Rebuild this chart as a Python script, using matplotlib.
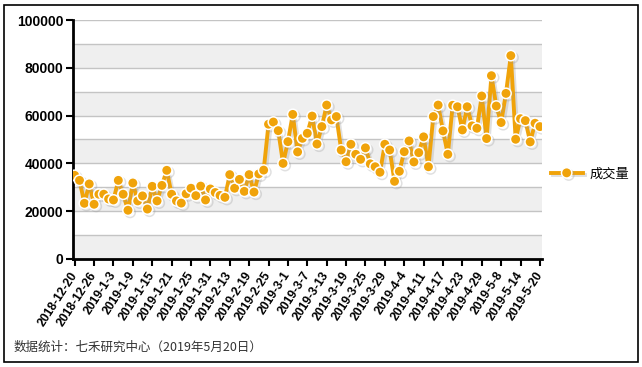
import matplotlib
matplotlib.use("Agg")
import matplotlib.pyplot as plt
import matplotlib.patches as mpatches
import matplotlib.patheffects as pe
from matplotlib.ticker import MultipleLocator

plt.rcParams["font.family"] = ["Liberation Sans", "Noto Sans CJK SC", "DejaVu Sans"]

# ---- data ----
tick_labels = [
    "2018-12-20", "2018-12-26", "2019-1-3", "2019-1-9", "2019-1-15",
    "2019-1-21", "2019-1-25", "2019-1-31", "2019-2-13", "2019-2-19",
    "2019-2-25", "2019-3-1", "2019-3-7", "2019-3-13", "2019-3-19",
    "2019-3-25", "2019-3-29", "2019-4-4", "2019-4-11", "2019-4-17",
    "2019-4-23", "2019-4-29", "2019-5-8", "2019-5-14", "2019-5-20",
]
volume = [
    35000, 32900, 23300, 31400, 22900, 27100, 27100, 25100, 24700, 32900,
    27100, 20400, 31800, 24300, 26400, 20900, 30400, 24300, 30800, 37100,
    27100, 24300, 23400, 27300, 29600, 26500, 30500, 24700, 29300, 27800,
    26600, 25800, 35300, 29600, 33300, 28300, 35300, 28000, 35600, 37200,
    56400, 57300, 53700, 40000, 49100, 60500, 44800, 50500, 52600, 59800,
    48100, 55400, 64400, 58200, 59600, 45600, 40700, 48000, 43800, 41700,
    46500, 39800, 38600, 36300, 48000, 45600, 32500, 36700, 44900, 49400,
    40600, 44500, 51100, 38600, 59600, 64400, 53600, 43800, 64300, 63700,
    54000, 63700, 55700, 54700, 68200, 50400, 76700, 64000, 57100, 69300,
    85100, 50100, 58700, 57900, 49000, 56800, 55400,
]
series_name = "成交量"
footer = "数据统计：七禾研究中心（2019年5月20日）"

orange = "#F0A30A"
band_grey = "#EFEFEF"
grid_grey = "#C4C4C4"

fig = plt.figure(figsize=(6.42, 3.67), dpi=100)
fig.patch.set_facecolor("white")
ax = fig.add_axes([0.1137, 0.2943, 0.7305, 0.6512])

# alternating horizontal bands, every 10000
for lo in range(0, 100000, 20000):
    ax.axhspan(lo, lo + 10000, facecolor=band_grey, edgecolor="none", zorder=0)
for yv in range(10000, 100001, 10000):
    ax.axhline(yv, color=grid_grey, linewidth=1.0, zorder=0.5)

x = list(range(len(volume)))
shadow = [pe.SimpleLineShadow(offset=(1.5, -1.5), shadow_color="#999999", alpha=0.3), pe.Normal()]
line, = ax.plot(x, volume, color=orange, linewidth=2.8, marker="o", markersize=7.5,
                markerfacecolor=orange, markeredgecolor="white", markeredgewidth=1.1,
                zorder=3, label=series_name, path_effects=shadow)

ax.set_xlim(-0.35, len(volume) - 1 + 0.43)
ax.set_ylim(0, 100000)
ax.set_xticks(range(0, len(volume), 4))
ax.set_xticklabels(tick_labels, rotation=57, ha="right", va="center",
                   rotation_mode="anchor", fontsize=8.7, fontweight="bold")
ax.yaxis.set_major_locator(MultipleLocator(20000))
ax.tick_params(axis="y", labelsize=10, width=1.5, length=5, direction="out", pad=2)
ax.tick_params(axis="x", width=1.5, length=5, direction="out", pad=5)
for t in ax.get_yticklabels():
    t.set_fontweight("bold")

for side in ("top", "right"):
    ax.spines[side].set_visible(False)
for side in ("left", "bottom"):
    ax.spines[side].set_linewidth(2.0)
    ax.spines[side].set_color("black")

leg = fig.legend(handles=[line], loc="center left", bbox_to_anchor=(0.858, 0.526),
                 frameon=False, handlelength=2.4, borderpad=0,
                 borderaxespad=0, handletextpad=0.5,
                 prop={"family": ["Noto Sans CJK SC"], "size": 9.5})

fig.text(14 / 642, 1 - 347 / 367, footer, fontsize=9, color="#333333",
         family=["Noto Sans CJK SC", "DejaVu Sans"], va="center", ha="left")

# outer frame
fig.patches.append(mpatches.Rectangle((4 / 642, 5 / 367), 634 / 642, 357 / 367,
                                      transform=fig.transFigure, fill=False,
                                      edgecolor="black", linewidth=1.2))

fig.savefig("out.png", dpi=100, facecolor="white")
plt.close(fig)
